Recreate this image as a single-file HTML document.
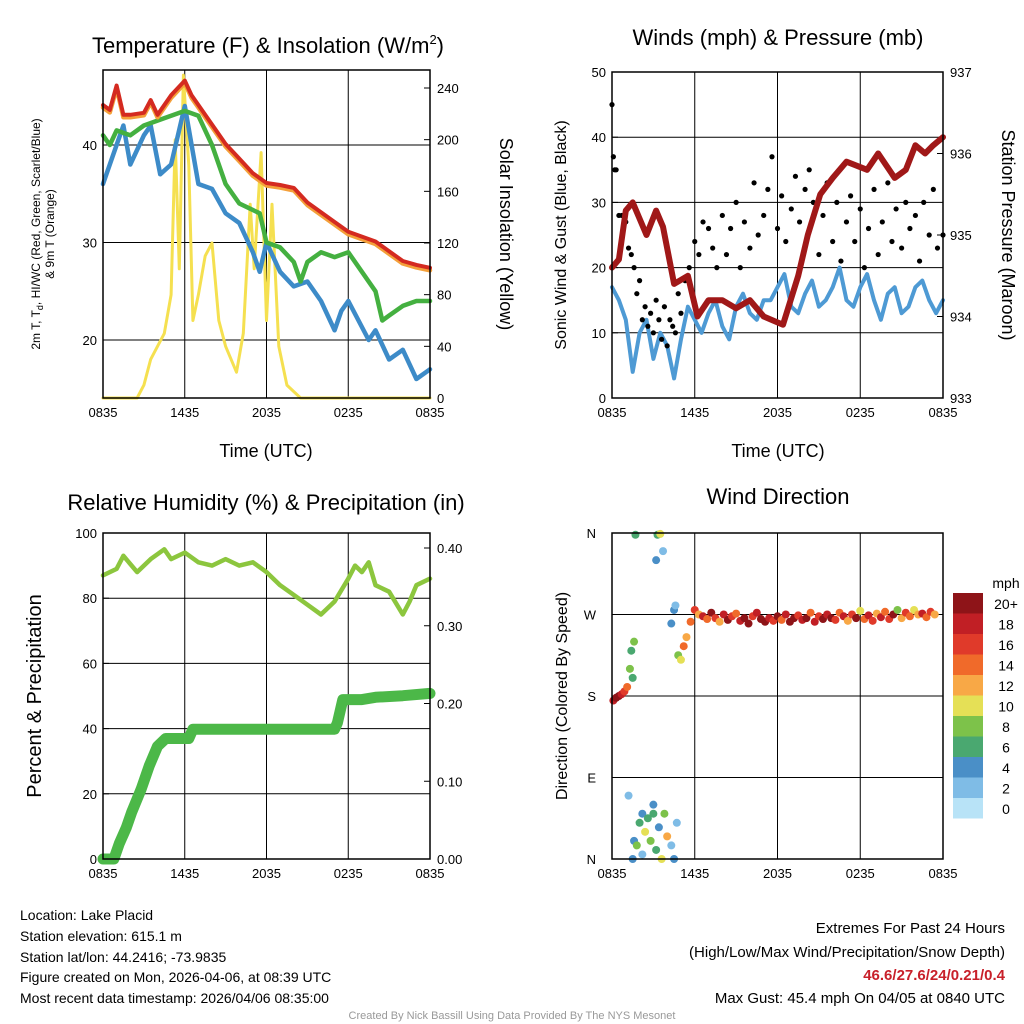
<!DOCTYPE html>
<html><head><meta charset="utf-8">
<style>
body{margin:0;background:#fff;}
svg{display:block;font-family:"Liberation Sans",sans-serif;}
</style></head>
<body>
<svg id="c" width="1024" height="1024" viewBox="0 0 1024 1024">
<rect width="1024" height="1024" fill="#fff"/>
<g id="layer"></g>
<text x="268" y="53" font-size="22" text-anchor="middle">Temperature (F) &amp; Insolation (W/m<tspan font-size="13" dy="-9">2</tspan><tspan dy="9">)</tspan></text>
<text x="778" y="45" font-size="22" text-anchor="middle">Winds (mph) &amp; Pressure (mb)</text>
<text x="266" y="510" font-size="22" text-anchor="middle">Relative Humidity (%) &amp; Precipitation (in)</text>
<text x="778" y="504" font-size="22" text-anchor="middle">Wind Direction</text>
<text x="266" y="457" font-size="18" text-anchor="middle">Time (UTC)</text>
<text x="778" y="457" font-size="18" text-anchor="middle">Time (UTC)</text>
<text transform="translate(40,234) rotate(-90)" font-size="12" text-anchor="middle">2m T, T<tspan font-size="9" dy="3">d</tspan><tspan dy="-3">, HI/WC (Red, Green, Scarlet/Blue)</tspan></text>
<text transform="translate(54,234) rotate(-90)" font-size="12" text-anchor="middle">&amp; 9m T (Orange)</text>
<text transform="translate(500,234) rotate(90)" font-size="18" text-anchor="middle">Solar Insolation (Yellow)</text>
<text transform="translate(566,235) rotate(-90)" font-size="16" text-anchor="middle">Sonic Wind &amp; Gust (Blue, Black)</text>
<text transform="translate(1002,235) rotate(90)" font-size="18" text-anchor="middle">Station Pressure (Maroon)</text>
<text transform="translate(41,696) rotate(-90)" font-size="20" text-anchor="middle">Percent &amp; Precipitation</text>
<text transform="translate(567,696) rotate(-90)" font-size="16" text-anchor="middle">Direction (Colored By Speed)</text>
<g font-size="14">
<text x="20" y="920">Location: Lake Placid</text>
<text x="20" y="941">Station elevation: 615.1 m</text>
<text x="20" y="962">Station lat/lon: 44.2416; -73.9835</text>
<text x="20" y="982">Figure created on Mon, 2026-04-06, at 08:39 UTC</text>
<text x="20" y="1003">Most recent data timestamp: 2026/04/06 08:35:00</text>
</g>
<g font-size="15" text-anchor="end">
<text x="1005" y="933">Extremes For Past 24 Hours</text>
<text x="1005" y="957">(High/Low/Max Wind/Precipitation/Snow Depth)</text>
<text x="1005" y="980" fill="#c8202a" font-weight="bold">46.6/27.6/24/0.21/0.4</text>
<text x="1005" y="1003">Max Gust: 45.4 mph On 04/05 at 0840 UTC</text>
</g>
<text x="512" y="1019" font-size="11" fill="#999" text-anchor="middle">Created By Nick Bassill Using Data Provided By The NYS Mesonet</text>
</svg>
<script>
// ---- data (hours since 0835 UTC) ----
const xTickLabels=["0835","1435","2035","0235","0835"];
const tempT=[0,0.5,1,1.5,2,3,3.5,4,5,6,6.5,7,8,9,10,11,12,13,14,15,16,17,18,19,20,21,22,23,24];
const tempRed=[44,43.5,46,43,43,43.2,44.5,43,45,46.5,45,44,42,40,38.5,37,36,35.8,35.5,34,33,32,31,30.5,30,29,28,27.6,27.3];
const greenT=[0,0.5,1,2,3,4,5,6,7,8,9,10,11.5,12,13,14,14.5,15,16,17,18,19,20,20.5,21,22,23,24];
const greenVals=[41,40,41.5,41,42,42.5,43,43.5,43,40,36,34,33,30,29.5,28,26,28,29,28.5,29,27,25,22,22.5,23.5,24,24];
const blueT=[0,0.5,1,1.5,2,3,3.5,4.2,5,6,7,8,9,10,11,11.5,12,13,14,15,16,17,17.5,18,19.5,20,21,22,23,24];
const blueVals=[36,38,40,42,38,41,42,37,38,44,36,35.5,33,32,29,27,30,27,25.5,26,24,21,23,24,20,21,18,19,16,17];
const solarT=[0,2.5,3,3.5,4.5,5,5.3,5.6,5.9,6.3,6.6,7,7.5,8,8.5,9,9.8,10.3,10.8,11.1,11.6,12,12.4,12.9,13.5,14.5,24];
const solarVals=[0,0,10,30,50,80,200,100,250,180,60,80,110,120,60,40,20,50,150,100,190,60,150,40,10,0,0];
const windT=[0,0.5,1,1.5,2,2.5,3,3.5,4,4.5,5,5.5,6,6.5,7,7.5,8,8.5,9,9.5,10,10.5,11,11.5,12,12.5,13,13.5,14,14.5,15,15.5,16,16.5,17,17.5,18,18.5,19,19.5,20,20.5,21,21.5,22,22.5,23,23.5,24];
const windVals=[17,15,12,4,10,12,6,10,8,3,9,14,12,10,13,15,11,9,14,16,13,12,15,15,17,19,14,13,16,18,14,15,17,20,15,14,17,19,15,12,16,17,13,14,17,18,15,13,15];
const presT=[0,0.5,1,1.5,2.5,3.2,3.7,4.5,5.5,6.2,7,8,9,10,11,12.4,13.5,14.2,15.1,16,17,18.5,19.3,20.5,21.3,22,22.7,23.3,24];
const presVals=[934.6,934.7,935.3,935.4,935.0,935.3,935.1,934.4,934.5,934.0,934.2,934.2,934.1,934.2,934.0,933.9,934.5,935.0,935.5,935.7,935.9,935.8,936.0,935.7,935.8,936.1,936.0,936.1,936.2];
const gustT=[0,0.1,0.2,0.3,0.5,0.7,1,1.2,1.4,1.6,1.8,2,2.2,2.4,2.6,2.8,3,3.2,3.4,3.6,3.8,4,4.2,4.4,4.6,4.8,5,5.3,5.6,6,6.3,6.6,7,7.3,7.6,8,8.3,8.6,9,9.3,9.6,10,10.3,10.6,11,11.3,11.6,12,12.3,12.6,13,13.3,13.6,14,14.3,14.6,15,15.3,15.6,16,16.3,16.6,17,17.3,17.6,18,18.3,18.6,19,19.3,19.6,20,20.3,20.6,21,21.3,21.6,22,22.3,22.6,23,23.3,23.6,24];
const gustVals=[45,37,35,35,28,28,27,23,22,20,16,18,12,14,11,13,10,15,12,9,14,8,12,11,10,16,13,18,20,24,22,27,26,23,20,28,22,26,30,20,27,23,33,25,28,32,37,26,31,24,29,34,27,32,35,30,22,28,33,24,30,21,27,31,24,29,20,26,32,22,27,33,24,29,23,30,26,28,21,30,25,32,23,25];
const rhT=[0,1,1.5,2.5,3.5,4.5,5,6,7,8,9,10,11,12,13,14,15,16,17,18,18.5,19,19.5,20,21,22,22.5,23,24];
const rhVals=[87,89,93,88,92,95,92,94,91,90,92,90,91,88,84,81,78,75,79,86,90,88,91,84,82,75,79,84,86];
const pcpT=[0,0.8,1.2,1.7,2.1,2.8,3.4,4.0,4.6,6.3,6.6,17.0,17.2,17.4,17.6,19,20,22,24];
const pcpVals=[0,0,0.02,0.04,0.06,0.09,0.12,0.145,0.155,0.155,0.167,0.167,0.175,0.19,0.205,0.205,0.208,0.21,0.213];
const dirT=[0.1,0.3,0.5,0.7,0.9,1.1,1.3,1.4,1.6,1.5,1.7,3.3,3.5,3.7,3.2,4.3,4.5,4.6,4.8,5.0,5.2,5.4,
1.2,1.6,1.8,2.0,2.2,2.4,2.6,2.8,3.0,3.2,3.4,3.6,3.8,4.0,4.3,4.5,4.7,1.5,2.2,3.0,
5.7,6.0,6.3,6.6,6.9,7.2,7.5,7.8,8.1,8.4,8.7,9.0,9.3,9.6,9.9,10.2,10.5,10.8,11.1,11.4,11.7,12.0,12.3,12.6,12.9,13.2,13.5,13.8,14.1,14.4,14.7,15.0,15.3,15.6,15.9,16.2,16.5,16.8,17.1,17.4,17.7,18.0,18.3,18.6,18.9,19.2,19.5,19.8,20.1,20.4,20.7,21.0,21.3,21.6,21.9,22.2,22.5,22.8,23.1,23.4,23.7,24];
const dirVals=[175,178,180,182,185,190,210,230,240,200,358,358,359,340,330,260,275,280,225,220,235,245,
70,20,15,40,50,30,45,20,50,10,35,0,50,25,15,0,40,0,5,60,
262,275,270,268,265,272,266,262,270,264,268,271,263,266,260,268,272,265,262,266,263,268,264,270,262,266,269,264,266,272,262,268,265,270,266,264,272,268,263,270,266,274,265,269,263,271,267,273,265,270,275,266,272,268,275,270,271,267,273,270];
const dirSpeed=[18,20,22,18,16,14,8,6,8,6,6,6,10,2,4,4,4,2,8,10,14,12,
2,4,8,6,4,10,6,8,6,6,4,10,8,12,2,4,2,4,2,4,
14,16,12,18,14,20,16,12,18,20,16,14,18,22,20,16,18,20,22,18,16,20,14,18,20,22,16,18,20,14,18,16,20,18,22,16,14,18,12,16,20,10,14,18,16,12,18,14,16,20,8,12,16,14,10,12,18,14,16,12,14];
const spdColors=["#b8e3f7","#7fbce6","#4a8fc7","#4aa870","#7dc24a","#e5e056","#f8a846","#f06a2a","#e03a2a","#c11f25","#8e1418"];
const cbLabels=["0","2","4","6","8","10","12","14","16","18","20+"];

const NS="http://www.w3.org/2000/svg";
const L=document.getElementById('layer');
function mk(tag,attrs,parent){const e=document.createElementNS(NS,tag);for(const k in attrs)e.setAttribute(k,attrs[k]);(parent||L).appendChild(e);return e;}
function sc(d0,d1,r0,r1){return v=>r0+(v-d0)/(d1-d0)*(r1-r0);}
function txt(x,y,s,anchor,size,parent){const t=mk('text',{x:x,y:y,'font-size':size||13,'text-anchor':anchor||'middle'},parent);t.textContent=s;return t;}
function path(xs,ys,fx,fy,color,w,name){
  const n=Math.min(xs.length,ys.length);
  let d='';for(let i=0;i<n;i++)d+=(i?'L':'M')+fx(xs[i]).toFixed(1)+','+fy(ys[i]).toFixed(1);
  const p=mk('path',{d:d,fill:'none',stroke:color,'stroke-width':w,'stroke-linejoin':'round','stroke-linecap':'round'});
  
  
  return p;
}
function frame(x0,y0,x1,y1,name,grid){
  const g=mk('g',{});
  
  
  const fx=sc(0,24,x0,x1);
  xTickLabels.forEach((l,i)=>{const x=fx(i*6);
    if(grid)mk('line',{x1:x,y1:y0,x2:x,y2:y1,stroke:'#000','stroke-width':1},g);
    const t=txt(x,y1+19,l,'middle',13,g);
    
    
  });
  return {g,fx};
}
function border(x0,y0,x1,y1){mk('rect',{x:x0,y:y0,width:x1-x0,height:y1-y0,fill:'none',stroke:'#000','stroke-width':1.5});}
function yAxis(g,ticks,fy,x0,x1,side,grid,fmt){
  ticks.forEach(v=>{const y=fy(v);
    if(grid)mk('line',{x1:x0,y1:y,x2:x1,y2:y,stroke:'#000','stroke-width':1},g);
    const xx=side==='left'?x0:x1;
    mk('line',{x1:xx,y1:y,x2:side==='left'?xx+6:xx-6,y2:y,stroke:'#000'},g);
    const t=txt(side==='left'?x0-6:x1+7,y+5,fmt?fmt(v):String(v),side==='left'?'end':'start',13,g);
    
    
  });
}
// Panel 1
(function(){const x0=103,y0=70,x1=430,y1=398;
 const {g,fx}=frame(x0,y0,x1,y1,'temperature-panel',true);
 const fy=sc(20,40,340,145), fs=sc(0,240,398,88);
 yAxis(g,[20,30,40],fy,x0,x1,'left',true);
 yAxis(g,[0,40,80,120,160,200,240],fs,x0,x1,'right',false);
 path(solarT,solarVals,fx,fs,'#f5e050',3,'solar-insolation-line');
 path(blueT,blueVals,fx,fy,'#3d8bc8',4.5,'wind-chill-line');
 path(greenT,greenVals,fx,fy,'#44b040',4.5,'dewpoint-line');
 path(tempT,tempRed,fx,v=>fy(v)+1.5,'#f4a03a',4.5,'9m-temperature-line');
 path(tempT,tempRed,fx,v=>fy(v)-1,'#d42a20',4,'2m-temperature-line');
 border(x0,y0,x1,y1);})();
// Panel 2
(function(){const x0=612,y0=72,x1=943,y1=398;
 const {g,fx}=frame(x0,y0,x1,y1,'winds-panel',true);
 const fy=sc(0,50,398,72), fp=sc(933,937,398,72);
 yAxis(g,[0,10,20,30,40,50],fy,x0,x1,'left',true);
 yAxis(g,[933,934,935,936,937],fp,x0,x1,'right',false);
 path(windT,windVals,fx,fy,'#4e9ad4',4,'sonic-wind-line');
 const n=Math.min(gustT.length,gustVals.length);
 for(let i=0;i<n;i++){const c=mk('circle',{cx:fx(gustT[i]),cy:fy(gustVals[i]),r:2.6,fill:'#000'});
  
  }
 path(presT,presVals,fx,fp,'#a01818',6,'pressure-line');
 border(x0,y0,x1,y1);})();
// Panel 3
(function(){const x0=103,y0=533,x1=430,y1=859;
 const {g,fx}=frame(x0,y0,x1,y1,'humidity-panel',true);
 const fy=sc(0,100,859,533), fr=sc(0,0.4,859,548);
 yAxis(g,[0,20,40,60,80,100],fy,x0,x1,'left',true);
 yAxis(g,[0,0.1,0.2,0.3,0.4],fr,x0,x1,'right',false,v=>v.toFixed(2));
 path(rhT,rhVals,fx,fy,'#8cc63e',4.5,'relative-humidity-line');
 path(pcpT,pcpVals,fx,fr,'#4cb848',11,'precipitation-line');
 border(x0,y0,x1,y1);})();
// Panel 4
(function(){const x0=612,y0=533,x1=943,y1=859;
 const {g,fx}=frame(x0,y0,x1,y1,'wind-direction-panel',true);
 const fy=sc(0,360,859,533);
 const labs=["N","E","S","W","N"];
 [0,90,180,270,360].forEach((v,i)=>{const y=fy(v);
  mk('line',{x1:x0,y1:y,x2:x1,y2:y,stroke:'#000'},g);
  const t=txt(x0-16,y+5,labs[i],'end',13,g);
  
  });
 const n=Math.min(dirT.length,dirVals.length,dirSpeed.length);
 for(let i=0;i<n;i++){const k=Math.max(0,Math.min(10,Math.round(dirSpeed[i]/2)));
  const c=mk('circle',{cx:fx(dirT[i]),cy:fy(dirVals[i]),r:4,fill:spdColors[k]});
  
  }
 border(x0,y0,x1,y1);
 const cb=mk('g',{});
 
 
 txt(1006,588,'mph','middle',14,cb);
 for(let i=0;i<11;i++){const y=593+(10-i)*20.5;
  mk('rect',{x:953,y:y,width:30,height:20.5,fill:spdColors[i]},cb);
  txt(1006,y+16,cbLabels[i],'middle',14,cb);}
})();
</script>
</body></html>
